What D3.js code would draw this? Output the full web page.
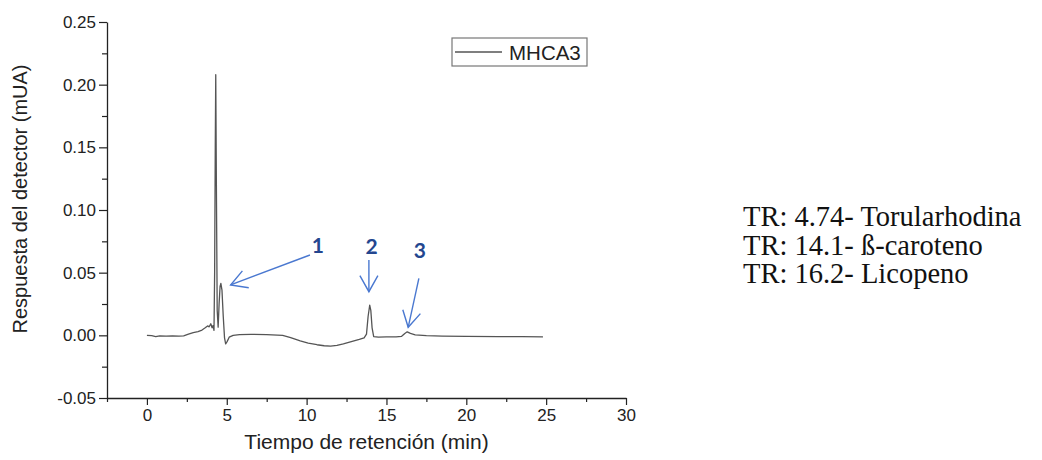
<!DOCTYPE html>
<html>
<head>
<meta charset="utf-8">
<script src="https://cdn.jsdelivr.net/npm/d3@7"></script>
<style>
  body { margin: 0; background: #fff; }
  svg { display: block; }
</style>
</head>
<body>
<div id="chart"></div>
<script>
// Chromatogram (time in min, response in mUA)
const times = [0.00, 0.30, 0.55, 0.80, 1.20, 1.60, 2.00, 2.30, 2.60, 2.90, 3.20, 3.45, 3.65, 3.80, 3.90, 4.00, 4.08, 4.14, 4.20,
  4.24, 4.28, 4.31, 4.35, 4.40, 4.46, 4.52, 4.58, 4.63, 4.70, 4.78, 4.86, 4.93, 5.02, 5.15, 5.40, 5.80, 6.50, 7.50, 8.50,
  9.00, 9.60, 10.10, 10.65, 11.10, 11.50, 11.90, 12.30, 12.80, 13.30, 13.60, 13.75, 13.85, 13.95, 14.02, 14.10, 14.20,
  14.50, 15.00, 15.60, 15.95, 16.15, 16.30, 16.50, 16.80, 17.50, 18.50, 20.00, 22.00, 23.50, 24.80];
const response = [0.0000, -0.0003, -0.0010, -0.0004, -0.0006, -0.0005, -0.0006, -0.0004, 0.0010, 0.0022, 0.0030, 0.0042, 0.0060, 0.0075, 0.0068, 0.0092, 0.0060, 0.0078, 0.0040,
  0.0500, 0.1500, 0.2080, 0.1200, 0.0200, 0.0065, 0.0250, 0.0390, 0.0415, 0.0360, 0.0150, -0.0020, -0.0068, -0.0050, -0.0015, 0.0000, 0.0006, 0.0008, 0.0006, 0.0000,
  -0.0018, -0.0045, -0.0062, -0.0075, -0.0083, -0.0086, -0.0080, -0.0068, -0.0050, -0.0032, -0.0020, 0.0010, 0.0150, 0.0240, 0.0200, 0.0060, -0.0010,
  -0.0015, -0.0012, -0.0012, -0.0008, 0.0015, 0.0028, 0.0015, 0.0003, -0.0002, -0.0006, -0.0008, -0.0010, -0.0010, -0.0012];

const seriesName = "MHCA3";
const xTicks = [0, 5, 10, 15, 20, 25, 30];
const yTicks = [-0.05, 0.00, 0.05, 0.10, 0.15, 0.20, 0.25];

// peak callouts: label, label position, arrow tail, arrow tip (data units)
const peakLabels = ["1", "2", "3"];
const labelPos = [[10.71, 0.0721], [14.07, 0.0713], [17.09, 0.0686]];
const arrowFrom = [[10.21, 0.0641], [13.90, 0.0601], [17.03, 0.0455]];
const arrowTo = [[5.24, 0.0402], [13.90, 0.0348], [16.36, 0.0064]];

const notes = ["TR: 4.74- Torularhodina", "TR: 14.1- ß-caroteno", "TR: 16.2- Licopeno"];

const W = 1042, H = 460;
const plot = { left: 107, right: 626, top: 22, bottom: 398 };

const svg = d3.select("#chart").append("svg")
  .attr("width", W)
  .attr("height", H);

const x = d3.scaleLinear().domain([-2.5, 30]).range([plot.left, plot.right]);
const y = d3.scaleLinear().domain([-0.05, 0.25]).range([plot.bottom, plot.top]);

// minor ticks
const xMinor = d3.range(-2.5, 30, 2.5).filter(v => !xTicks.includes(v));
const yMinor = d3.range(-0.025, 0.25, 0.05);

svg.append("g")
  .attr("transform", `translate(0,${plot.bottom})`)
  .call(d3.axisBottom(x).tickValues(xMinor).tickSize(4).tickFormat(""))
  .call(g => g.select(".domain").remove())
  .selectAll("line").attr("stroke", "#222").attr("stroke-width", 1.2);

svg.append("g")
  .attr("transform", `translate(${plot.left},0)`)
  .call(d3.axisLeft(y).tickValues(yMinor).tickSize(5).tickFormat(""))
  .call(g => g.select(".domain").remove())
  .selectAll("line").attr("stroke", "#222").attr("stroke-width", 1.2);

const xAxis = svg.append("g")
  .attr("transform", `translate(0,${plot.bottom})`)
  .call(d3.axisBottom(x).tickValues(xTicks).tickSize(7).tickPadding(4).tickSizeOuter(0).tickFormat(d3.format("d")));

const yAxis = svg.append("g")
  .attr("transform", `translate(${plot.left},0)`)
  .call(d3.axisLeft(y).tickValues(yTicks).tickSize(8).tickPadding(3).tickSizeOuter(0)
    .tickFormat(d => d3.format(".2f")(d).replace("−", "-")));

[xAxis, yAxis].forEach(a => {
  a.select(".domain").attr("stroke", "#222").attr("stroke-width", 1.3);
  a.selectAll(".tick line").attr("stroke", "#222").attr("stroke-width", 1.2);
  a.selectAll(".tick text")
    .attr("fill", "#222")
    .style("font-family", "'Liberation Sans', Arial, sans-serif")
    .style("font-size", "17px");
});

// axis titles
svg.append("text")
  .attr("x", (plot.left + plot.right) / 2)
  .attr("y", 449)
  .attr("text-anchor", "middle")
  .style("font-family", "'Liberation Sans', Arial, sans-serif")
  .style("font-size", "21px")
  .attr("fill", "#222")
  .text("Tiempo de retención (min)");

svg.append("text")
  .attr("transform", "translate(27,199) rotate(-90)")
  .attr("text-anchor", "middle")
  .style("font-family", "'Liberation Sans', Arial, sans-serif")
  .style("font-size", "20px")
  .attr("fill", "#222")
  .text("Respuesta del detector (mUA)");

// trace
const line = d3.line()
  .x((d, i) => x(times[i]))
  .y(d => y(d));

svg.append("path")
  .datum(response)
  .attr("fill", "none")
  .attr("stroke", "#555")
  .attr("stroke-width", 1.3)
  .attr("stroke-linejoin", "round")
  .attr("d", line);

// legend
const legend = svg.append("g").attr("transform", "translate(452,38)");
legend.append("rect")
  .attr("width", 135).attr("height", 28)
  .attr("fill", "#fff").attr("stroke", "#777").attr("stroke-width", 1.2);
legend.append("line")
  .attr("x1", 3).attr("x2", 50).attr("y1", 14).attr("y2", 14)
  .attr("stroke", "#555").attr("stroke-width", 1.3);
legend.append("text")
  .attr("x", 57).attr("y", 21.5)
  .style("font-family", "'Liberation Sans', Arial, sans-serif")
  .style("font-size", "20.5px")
  .attr("fill", "#222")
  .text(seriesName);

// arrows
svg.append("defs").append("marker")
  .attr("id", "head")
  .attr("markerUnits", "userSpaceOnUse")
  .attr("viewBox", "-20 -12 24 24")
  .attr("markerWidth", 24).attr("markerHeight", 24)
  .attr("refX", 0).attr("refY", 0)
  .attr("orient", "auto")
  .append("path")
  .attr("d", "M-16,-9L0,0L-16,9")
  .attr("fill", "none")
  .attr("stroke", "#4a78d0")
  .attr("stroke-width", 1.4);

peakLabels.forEach((lab, i) => {
  svg.append("line")
    .attr("x1", x(arrowFrom[i][0])).attr("y1", y(arrowFrom[i][1]))
    .attr("x2", x(arrowTo[i][0])).attr("y2", y(arrowTo[i][1]))
    .attr("stroke", "#4a78d0")
    .attr("stroke-width", 1.4)
    .attr("marker-end", "url(#head)");
  svg.append("text")
    .attr("x", x(labelPos[i][0])).attr("y", y(labelPos[i][1]))
    .attr("text-anchor", "middle")
    .attr("dominant-baseline", "central")
    .style("font-family", "Lato, 'Open Sans', sans-serif")
    .style("font-weight", "bold")
    .style("font-size", "21px")
    .attr("fill", "#24468f")
    .text(lab);
});

// retention time notes
svg.append("g")
  .selectAll("text")
  .data(notes)
  .join("text")
  .attr("x", 743)
  .attr("y", (d, i) => 226 + i * 28.5)
  .style("font-family", "'Liberation Serif', 'Times New Roman', serif")
  .style("font-size", "28.5px")
  .attr("fill", "#111")
  .text(d => d);
</script>
</body>
</html>
